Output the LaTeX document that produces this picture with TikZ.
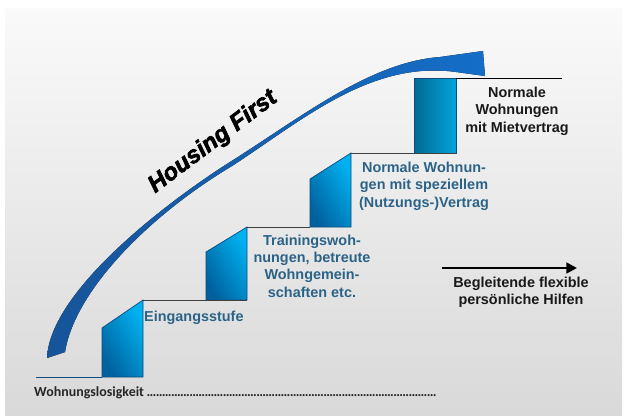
\documentclass[tikz,border=0pt]{standalone}
\usepackage{fontspec}
\setmainfont{Liberation Sans}
\newfontfamily\calibrifont{Carlito}
\usetikzlibrary{arrows.meta}
\definecolor{StepDarkClr}{rgb}{0,0.38,0.62}
\definecolor{StepLightClr}{rgb}{0,0.70,0.95}
\definecolor{TopDarkClr}{rgb}{0,0.42,0.58}
\definecolor{TopLightClr}{rgb}{0,0.64,0.85}
\definecolor{SwooshClr}{rgb}{0.09,0.33,0.60}
\definecolor{SwooshHeadClr}{rgb}{0.08,0.43,0.78}
\definecolor{LabelClr}{rgb}{0.17,0.39,0.53}
\definecolor{EdgeClr}{rgb}{0.05,0.30,0.50}
\definecolor{BackClr}{rgb}{0.85,0.85,0.85}

\begin{document}
\begin{tikzpicture}[x=0.03cm,y=-0.03cm,
  stepblock/.style={draw=EdgeClr,line width=0.6pt,bottom color=StepDarkClr,top color=StepLightClr,shading angle=-60},
  topblock/.style={draw=EdgeClr,line width=0.6pt,left color=TopDarkClr,right color=TopLightClr},
  tread/.style={line width=0.8pt,draw=black!75},
  steplabel/.style={text=LabelClr,font=\bfseries\fontsize{12.3}{14.8}\selectfont,align=center,inner sep=0pt},
  plainlabel/.style={steplabel,text=black!90}]
\useasboundingbox (0,0) rectangle (624,419);
\fill[white] (0,0) rectangle (624,419);
\shade[top color=white!98!black,bottom color=BackClr] (5,8) rectangle (622,415);

% corners of the stairs
\coordinate (G0) at (36,377);
\coordinate (G1) at (102,377);
\coordinate (T1) at (143,300);
\coordinate (T1e) at (247,300);
\coordinate (T2) at (247,227);
\coordinate (T2e) at (310,227);
\coordinate (T3) at (351,153);
\coordinate (T3e) at (456,153);
\coordinate (T4) at (456,78);
\coordinate (T4e) at (562,78);

% blocks
\draw[stepblock] (G1) -- (102,328) -- (T1) -- (143,377) -- cycle;
\draw[stepblock] (206,300) -- (206,252) -- (T2) -- (T1e) -- cycle;
\draw[stepblock] (310,227) -- (310,179) -- (T3) -- (351,227) -- cycle;
\draw[topblock] (414,153) -- (414,78) -- (T4) -- (T3e) -- cycle;

% treads
\draw[line width=0.8pt,draw=EdgeClr] (G0) -- (G1);
\draw[tread] (T1) -- (T1e);
\draw[tread] (T2) -- (T2e);
\draw[tread] (T3) -- (T3e);
\draw[line width=0.8pt,draw=black] (T4) -- (T4e);

% swoosh
\fill[left color=SwooshClr,right color=SwooshHeadClr]
  (47,358) .. controls (50,290) and (170,200) .. (230,162)
  .. controls (300,118) and (370,62) .. (440,57)
  -- (483,51) -- (485,76) -- (456,72)
  .. controls (370,60) and (300,122) .. (232,166)
  .. controls (150,215) and (75,290) .. (65,352) -- cycle;
\node[rotate=37,font=\bfseries\itshape\fontsize{20.4}{24}\selectfont\addfontfeature{FakeBold=2.5}] (hf) at (213,142) {Housing First};

% labels
\node[steplabel,anchor=west] (s1) at (144,318) {Eingangsstufe};
\node[steplabel] (s2) at (312,266) {Trainingswoh-\\nungen, betreute\\Wohngemein-\\schaften etc.};
\node[steplabel] (s3) at (424,186) {Normale Wohnun-\\gen mit speziellem\\(Nutzungs-)Vertrag};
\node[plainlabel] (s4) at (517,111) {Normale\\Wohnungen\\mit Mietvertrag};

\coordinate (helpA) at (442,268);
\coordinate (helpB) at (577,268);
\draw[line width=2.2pt,-{Triangle[length=9pt,width=9pt]}] (helpA) -- (helpB);
\node[plainlabel] (help) at (521,292) {Begleitende flexible\\persönliche Hilfen};

\node[anchor=west,inner sep=0pt,text=black!85,font=\calibrifont\bfseries\fontsize{11.9}{14}\selectfont] (loss) at (34,393)
  {\makebox[12.1cm][l]{Wohnungslosigkeit\leaders\hbox to 2.6pt{\hss.\hss}\hfill}};
\end{tikzpicture}
\end{document}
